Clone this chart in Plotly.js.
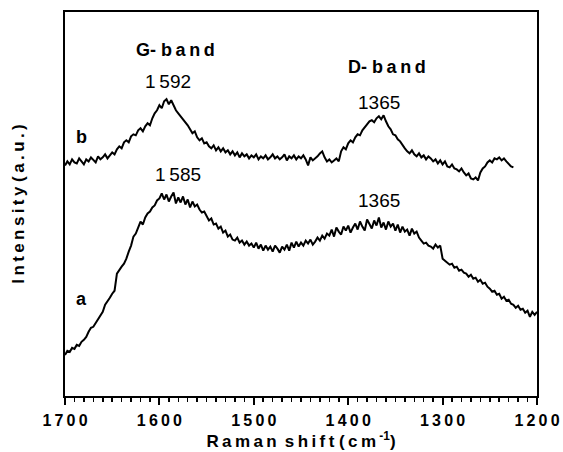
<!DOCTYPE html>
<html>
<head>
<meta charset="utf-8">
<script src="https://cdn.plot.ly/plotly-3.0.1.min.js"></script>
<style>html,body{margin:0;padding:0;background:#fff;}#chart{width:563px;height:452px;}</style>
</head>
<body>
<div id="chart"></div>
<script>
const startShift = 1700;
const shiftStep = -2.5;

// curve b: 1700 -> 1225 cm^-1
const intensityB = [
  232,236,233,238,235,234,239,236,233,238,
  236,240,237,235,241,238,240,243,239,242,
  245,243,248,251,249,255,257,255,261,263,
  262,267,269,266,271,274,272,279,284,287,
  292,289,296,298,293,297,291,287,284,281,
  279,275,272,268,264,266,260,257,259,254,
  255,251,249,252,247,250,246,249,245,247,
  243,246,242,245,240,244,241,243,239,242,
  240,243,238,241,239,242,238,240,243,239,
  241,238,240,243,237,241,239,242,238,241,
  239,242,238,232,240,237,239,241,244,246,
  240,236,238,235,237,239,236,246,250,248,
  254,257,255,260,263,262,267,270,274,276,
  277,275,279,281,278,282,276,271,268,263,
  262,258,256,252,249,246,244,247,243,241,
  244,240,242,238,241,239,236,238,234,237,
  233,236,231,230,233,229,228,226,229,225,
  222,224,219,218,220,217,225,229,231,235,
  237,235,239,238,240,237,239,236,233,231,
  230
];

// curve a: 1700 -> 1200 cm^-1
const intensityA = [
  43,47,46,50,49,53,52,56,58,61,
  66,70,71,75,79,82,86,93,96,100,
  104,107,124,128,131,134,139,146,152,161,
  164,170,176,173,180,184,186,190,192,197,
  199,204,198,203,196,201,205,194,200,195,
  201,193,198,190,196,191,193,188,185,186,
  181,177,179,173,174,169,171,165,167,161,
  163,158,157,160,155,157,153,156,152,154,
  150,155,149,153,147,152,148,151,146,152,
  149,145,151,148,153,147,155,150,156,151,
  155,152,157,154,158,153,156,160,157,162,
  159,164,162,168,161,170,166,163,171,167,
  172,165,170,174,168,176,171,167,178,173,
  169,177,172,180,170,175,168,176,171,174,
  167,173,165,171,166,168,162,169,164,166,
  160,157,154,155,152,151,149,153,150,152,
  139,137,135,133,134,130,131,127,128,125,
  124,121,123,119,120,116,118,114,115,111,
  109,106,107,103,104,99,101,97,98,94,
  93,90,92,88,89,85,87,81,86,83,
  86
];

const xTickVals = [1700,1600,1500,1400,1300,1200];
const xTickText = ['1\u20097\u20090\u20090','1\u20096\u20090\u20090','1\u20095\u20090\u20090','1\u20094\u20090\u20090','1\u20093\u20090\u20090','1\u20092\u20090\u20090'];

const FONT = 'Liberation Sans, Arial, sans-serif';
const sp = '\u2009';
function spaced(s) { return s.split('').join(sp); }

const traces = [
  {x0: startShift, dx: shiftStep, y: intensityB, type: 'scatter', mode: 'lines', line: {color: '#000', width: 2}, hoverinfo: 'skip'},
  {x0: startShift, dx: shiftStep, y: intensityA, type: 'scatter', mode: 'lines', line: {color: '#000', width: 2}, hoverinfo: 'skip'}
];

function ann(text, x, y, size, bold) {
  return {x: x, y: y, xref: 'x', yref: 'y', text: bold ? '<b>' + text + '</b>' : text, showarrow: false,
          font: {family: FONT, size: size, color: '#000'}, xanchor: 'center', yanchor: 'middle'};
}

const layout = {
  width: 563, height: 452,
  margin: {l: 65, r: 26, t: 12, b: 56},
  paper_bgcolor: '#fff', plot_bgcolor: '#fff',
  showlegend: false,
  font: {family: FONT, color: '#000'},
  xaxis: {
    range: [1700, 1200], showgrid: false, zeroline: false,
    showline: true, linecolor: '#000', linewidth: 2, mirror: true,
    ticks: 'outside', ticklen: 7, tickwidth: 2, tickcolor: '#000',
    tickvals: xTickVals, ticktext: xTickText, ticklabelstandoff: 2,
    tickfont: {family: FONT, size: 16, color: '#000', weight: 'bold'},
    minor: {dtick: 10, ticks: 'outside', ticklen: 4, tickwidth: 1.5, tickcolor: '#000'},
    title: {text: '<b>' + spaced('Raman') + ' ' + sp + spaced('shift') + ' ' + spaced('(cm') + '<sup> -1</sup>)</b>', font: {family: FONT, size: 17, color: '#000'}, standoff: 5}
  },
  yaxis: {
    range: [2, 385], showgrid: false, zeroline: false,
    showline: true, linecolor: '#000', linewidth: 2, mirror: true,
    ticks: '', showticklabels: false,
    title: {text: '<b>' + spaced('Intensity') + ' ' + spaced('(a.u.)') + '</b>', font: {family: FONT, size: 17, color: '#000'}, standoff: 34}
  },
  annotations: [
    ann('G- ' + spaced('band'), 1583, 347, 18, true),
    ann('D- ' + spaced('band'), 1359, 330, 18, true),
    ann('1' + sp + '592', 1591, 316, 19, false),
    ann('1365', 1367, 295, 19, false),
    ann('1' + sp + '585', 1580, 223, 19, false),
    ann('1365', 1367, 197, 19, false),
    ann('b', 1682, 260, 18, true),
    ann('a', 1683, 99, 18, true)
  ]
};

Plotly.newPlot('chart', traces, layout, {staticPlot: true, displayModeBar: false});
</script>
</body>
</html>
